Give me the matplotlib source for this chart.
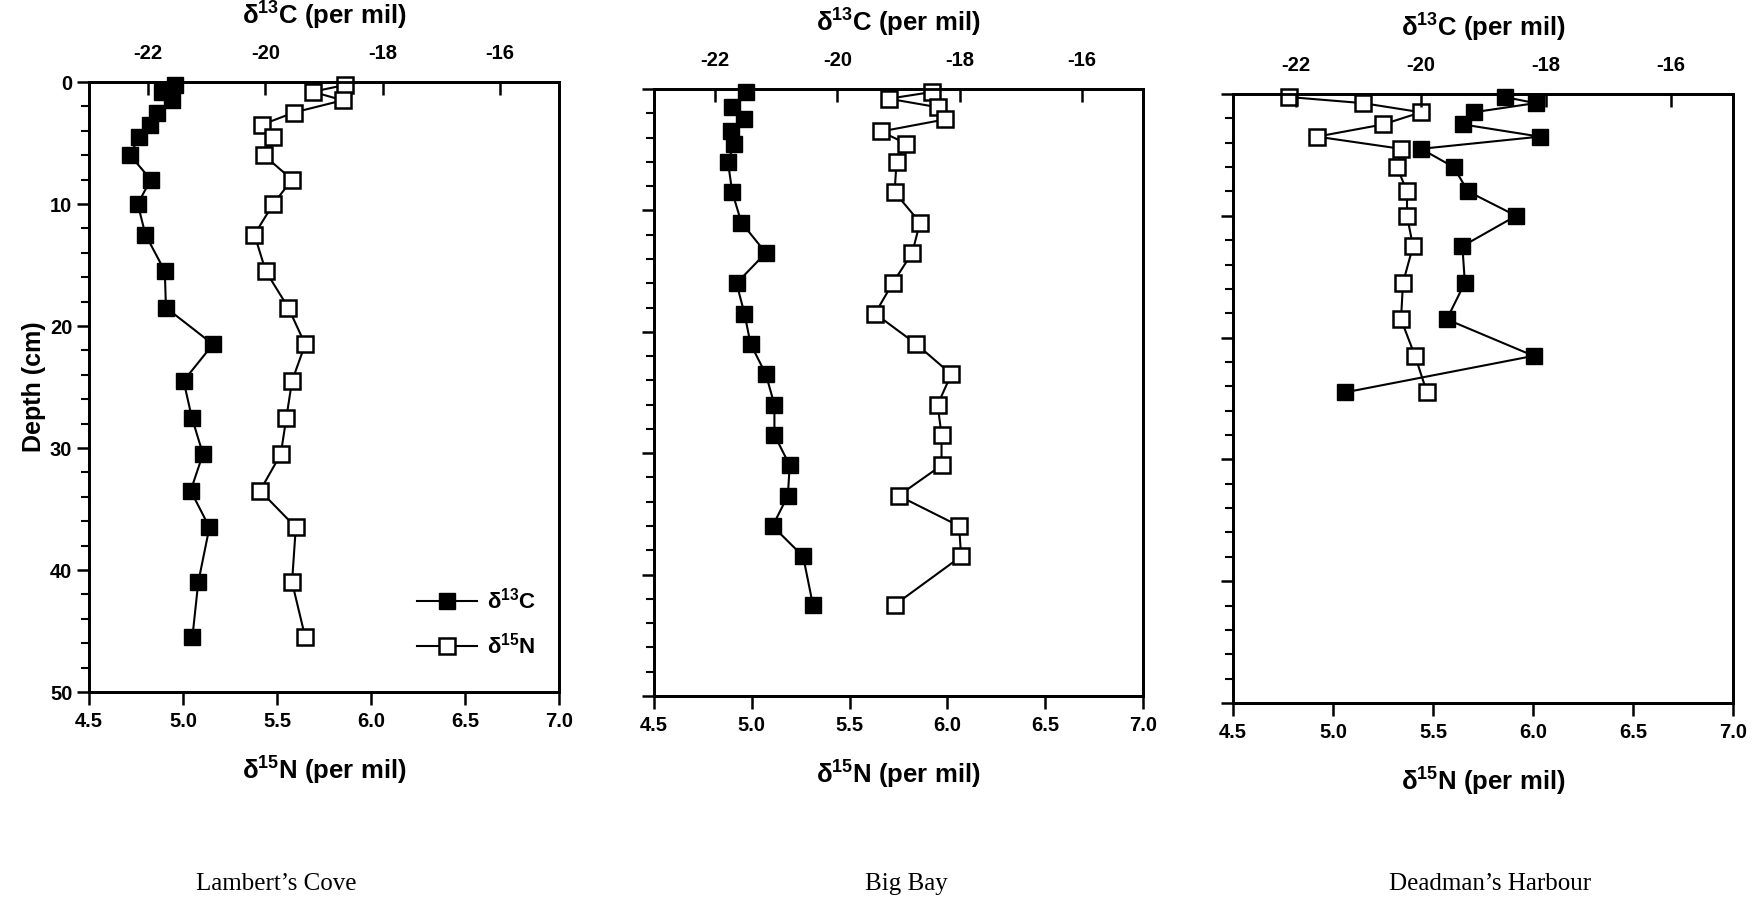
import matplotlib
matplotlib.use('Agg')
import matplotlib.pyplot as plt
from matplotlib.ticker import MultipleLocator, FixedLocator
from matplotlib.lines import Line2D

plt.rcParams['font.family'] = ['Liberation Sans', 'DejaVu Sans']
plt.rcParams['font.weight'] = 'bold'
plt.rcParams['axes.labelweight'] = 'bold'
plt.rcParams['mathtext.fontset'] = 'custom'
plt.rcParams['mathtext.rm'] = 'Liberation Sans:bold'
plt.rcParams['mathtext.it'] = 'Liberation Sans:bold:italic'
plt.rcParams['mathtext.bf'] = 'Liberation Sans:bold'

# ---------------- data ----------------
sites = ["Lambert\u2019s Cove", "Big Bay", "Deadman\u2019s Harbour"]

# Lambert's Cove
depth_lc = [0.25, 0.8, 1.5, 2.5, 3.5, 4.5, 6, 8, 10, 12.5, 15.5, 18.5, 21.5,
            24.5, 27.5, 30.5, 33.5, 36.5, 41, 45.5]
d13c_lc = [-21.54, -21.75, -21.58, -21.85, -21.96, -22.15, -22.30, -21.95,
           -22.17, -22.04, -21.71, -21.69, -20.89, -21.39, -21.25, -21.06,
           -21.27, -20.95, -21.14, -21.24]
d15n_lc = [5.86, 5.69, 5.85, 5.59, 5.42, 5.48, 5.43, 5.58, 5.48, 5.38, 5.44,
           5.56, 5.65, 5.58, 5.55, 5.52, 5.41, 5.60, 5.58, 5.65]

# Big Bay
depth_bb_c = [0.25, 1.5, 2.5, 3.5, 4.5, 6, 8.5, 11, 13.5, 16, 18.5, 21, 23.5,
              26, 28.5, 31, 33.5, 36, 38.5, 42.5]
d13c_bb = [-21.50, -21.72, -21.52, -21.74, -21.69, -21.79, -21.72, -21.57,
           -21.17, -21.65, -21.52, -21.42, -21.17, -21.03, -21.03, -20.78,
           -20.81, -21.06, -20.56, -20.40]
depth_bb_n = [0.25, 0.8, 1.5, 2.5, 3.5, 4.5, 6, 8.5, 11, 13.5, 16, 18.5, 21,
              23.5, 26, 28.5, 31, 33.5, 36, 38.5, 42.5]
d15n_bb = [5.92, 5.70, 5.95, 5.99, 5.66, 5.79, 5.74, 5.73, 5.86, 5.82, 5.72,
           5.63, 5.84, 6.02, 5.95, 5.97, 5.97, 5.75, 6.06, 6.07, 5.73]

# Deadman's Harbour
depth_dh = [0.25, 0.75, 1.5, 2.5, 3.5, 4.5, 6, 8, 10, 12.5, 15.5, 18.5, 21.5, 24.5]
d13c_dh = [-18.65, -18.16, -19.15, -19.32, -18.09, -19.99, -19.47, -19.24,
           -18.47, -19.33, -19.29, -19.58, -18.19, -21.21]
d15n_dh = [4.78, 5.15, 5.44, 5.25, 4.92, 5.34, 5.32, 5.37, 5.37, 5.40, 5.35,
           5.34, 5.41, 5.47]

n_ticks = [4.5, 5.0, 5.5, 6.0, 6.5, 7.0]
n_ticklabels = ["4.5", "5.0", "5.5", "6.0", "6.5", "7.0"]
c_ticks = [-22, -20, -18, -16]
c_ticklabels = ["-22", "-20", "-18", "-16"]
depth_ticks = [0, 10, 20, 30, 40, 50]

data = [
    (depth_lc, d13c_lc, depth_lc, d15n_lc),
    (depth_bb_c, d13c_bb, depth_bb_n, d15n_bb),
    (depth_dh, d13c_dh, depth_dh, d15n_dh),
]

# ---------------- layout ----------------
W, H = 1753, 902
fig = plt.figure(figsize=(W / 100, H / 100), dpi=100)

boxes = [(89, 82, 559, 692), (654, 89, 1143, 696), (1233, 94, 1733, 703)]
title_pos = [(276, 884), (906, 884), (1490, 884)]

mk = 12
lw = 1.5
for i, (box, (dc, c, dn, n)) in enumerate(zip(boxes, data)):
    l, t, r, b = box
    ax = fig.add_axes([l / W, (H - b) / H, (r - l) / W, (b - t) / H])
    ax.set_xlim(4.5, 7.0)
    ax.set_ylim(50, 0)
    ax2 = ax.twiny()
    ax2.set_xlim(-23, -15)
    ax2.set_ylim(50, 0)

    ax.plot(n, dn, '-s', color='black', lw=lw, ms=mk, mfc='white',
            mec='black', mew=1.8, clip_on=False, zorder=5)
    ax2.plot(c, dc, '-s', color='black', lw=lw, ms=mk, mfc='black',
             mec='black', mew=1.0, clip_on=False, zorder=5)

    for a in (ax, ax2):
        for s in a.spines.values():
            s.set_linewidth(2.0)

    ax.xaxis.set_major_locator(FixedLocator(n_ticks))
    ax.set_xticklabels(n_ticklabels)
    ax.yaxis.set_major_locator(FixedLocator(depth_ticks))
    ax.yaxis.set_minor_locator(MultipleLocator(2))
    ax.tick_params(axis='x', direction='out', length=9, width=1.8,
                   labelsize=14.5, pad=5.5)
    ax.tick_params(axis='y', which='major', direction='out', length=9,
                   width=1.8, labelsize=14.5, pad=3)
    ax.tick_params(axis='y', which='minor', direction='out', length=6,
                   width=1.5)
    ax.tick_params(top=False, right=False)
    if i == 0:
        ax.set_ylabel('Depth (cm)', fontsize=18, labelpad=3)
    else:
        ax.set_yticklabels([])

    ax2.xaxis.set_major_locator(FixedLocator(c_ticks))
    ax2.set_xticklabels(c_ticklabels)
    ax2.tick_params(axis='x', direction='in', length=9, width=1.8,
                    labelsize=14.5, pad=14)

    ax.set_xlabel('\u03b4$^{15}$N (per mil)', fontsize=18.5, labelpad=17)
    ax2.set_xlabel('\u03b4$^{13}$C (per mil)', fontsize=18.5, labelpad=14)

    tx, ty = title_pos[i]
    fig.text(tx / W, (H - ty) / H, sites[i], ha='center', va='center',
             fontsize=18, fontweight='normal',
             family=['Liberation Serif', 'DejaVu Serif'])

    if i == 0:
        h1 = Line2D([], [], color='black', lw=lw, marker='s', ms=mk,
                    mfc='black', mec='black')
        h2 = Line2D([], [], color='black', lw=lw, marker='s', ms=mk,
                    mfc='white', mec='black', mew=1.8)
        ax.legend([h1, h2], ['\u03b4$^{13}$C', '\u03b4$^{15}$N'],
                  loc='lower left', bbox_to_anchor=(0.655, 0.022),
                  frameon=False, fontsize=16, handlelength=2.7,
                  handletextpad=0.45, labelspacing=0.85)

fig.savefig('out.png', dpi=100)
